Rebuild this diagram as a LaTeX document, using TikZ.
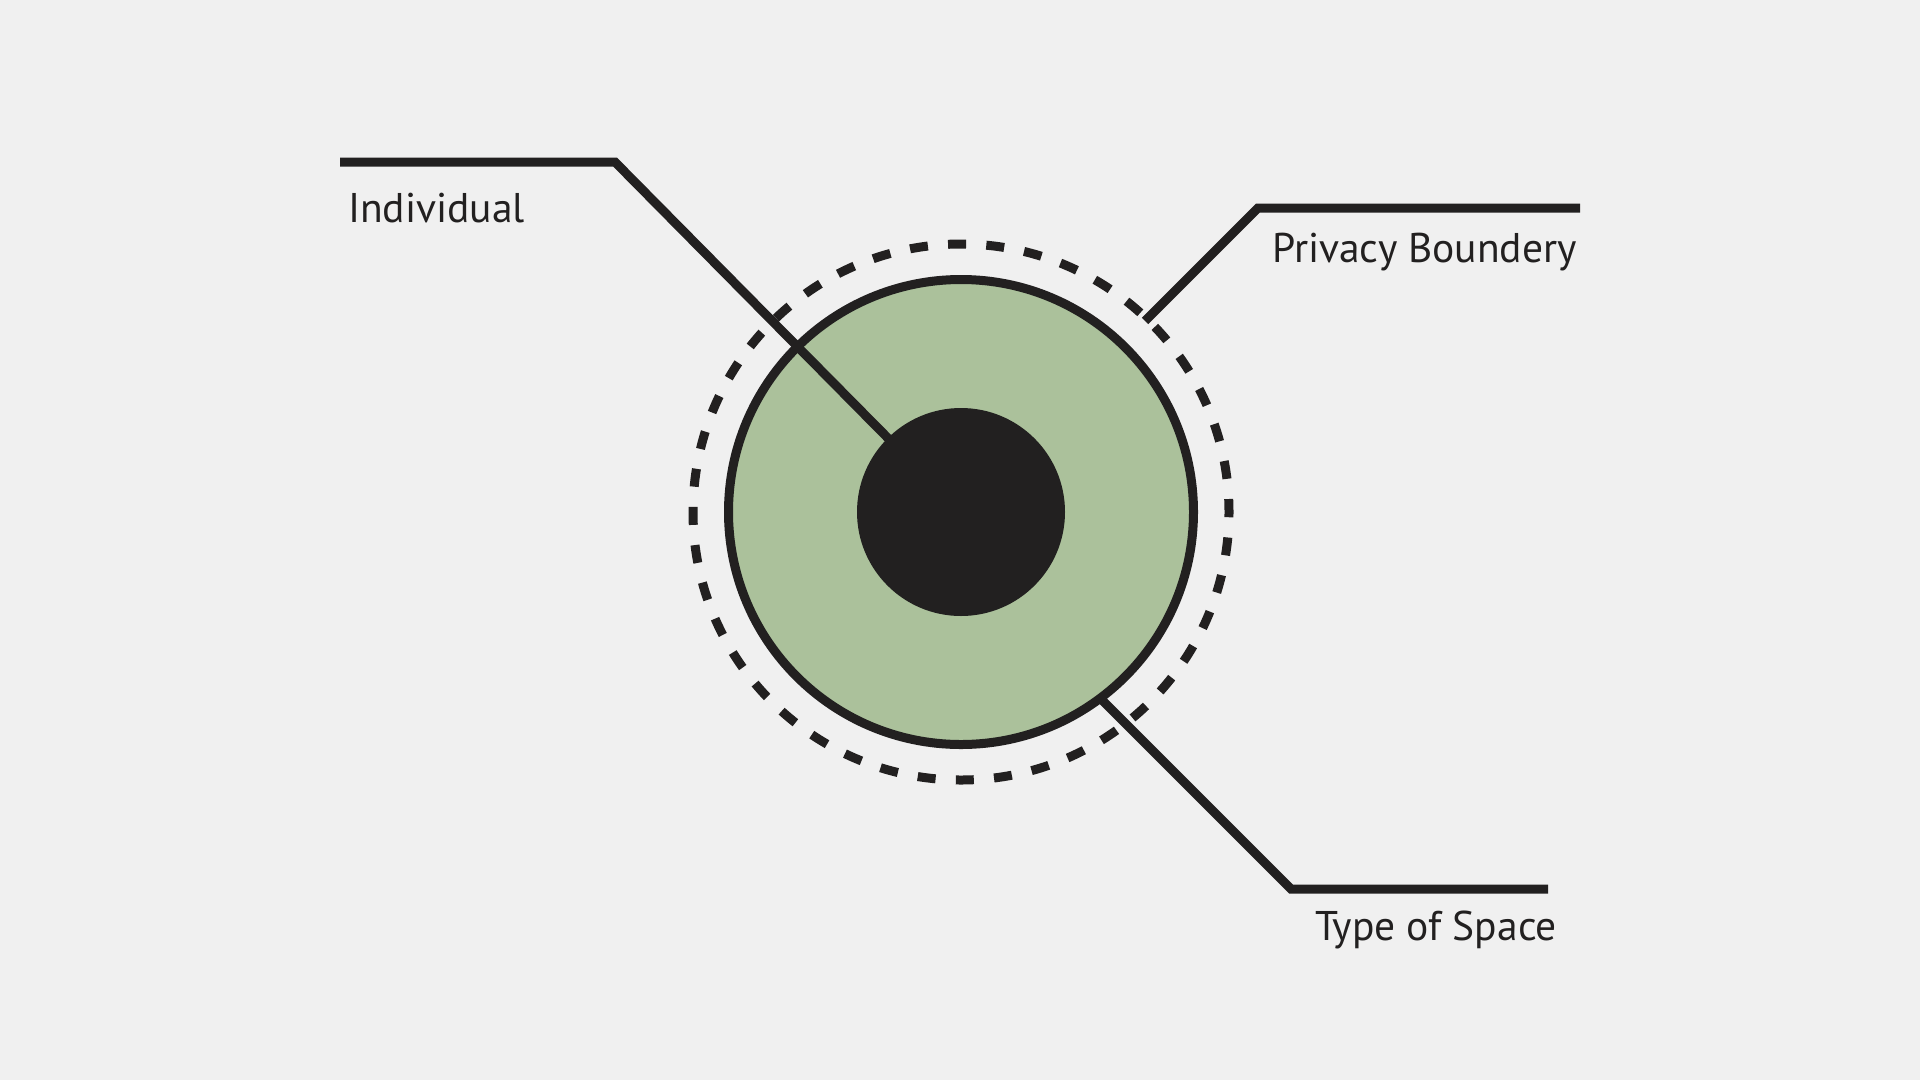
\documentclass[tikz,border=0pt]{standalone}
\usepackage{fontspec}
\setmainfont{PT Sans}
\definecolor{bg}{HTML}{F0F0F0}
\definecolor{ink}{HTML}{222020}
\definecolor{leaf}{HTML}{ABC19B}
\begin{document}
\begin{tikzpicture}[x=1pt,y=-1pt,
  ring/.style={circle,inner sep=0pt,outer sep=0pt,line width=9pt,draw=ink},
  lead/.style={line width=9pt,draw=ink,line join=miter},
  lbl/.style={inner sep=0pt,anchor=base west,text=ink,font=\fontsize{41.5}{48}\selectfont}]
\fill[bg] (0,0) rectangle (1920,1080);
\useasboundingbox (0,0) rectangle (1920,1080);
\coordinate (c) at (961,512);
% dashed privacy boundary
\node[ring,minimum size=536pt,dash pattern=on 18pt off 20.27pt,dash phase=5pt] (dash) at (c) {};
% type of space
\node[ring,minimum size=465pt,fill=leaf] (space) at (c) {};
% individual leader (under the core)
\coordinate (i1) at (340,162);
\coordinate (i2) at (615,162);
\draw[lead] (i1) -- (i2) -- (c);
% core
\node[circle,inner sep=0pt,minimum size=208pt,fill=ink] (core) at (c) {};
% privacy leader
\coordinate (p1) at (1580,208);
\coordinate (p2) at (1258,208);
\coordinate (p3) at (1145,321);
\draw[lead] (p1) -- (p2) -- (p3);
% type of space leader
\coordinate (t1) at (1548,889);
\coordinate (t2) at (1291,889);
\coordinate (t3) at (1100,698);
\draw[lead] (t1) -- (t2) -- (t3);
% labels
\node[lbl] (li) at (348,222) {Individual};
\node[lbl] (lp) at (1272,262) {Privacy Boundery};
\node[lbl] (lt) at (1315,940) {Type of Space};
\end{tikzpicture}
\end{document}
